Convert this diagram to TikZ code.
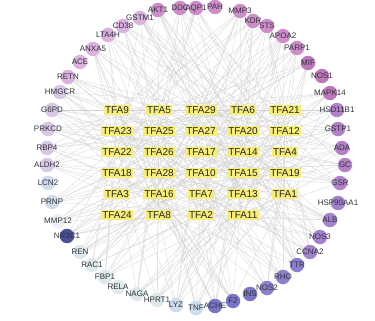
\documentclass[tikz,border=0pt]{standalone}
\usepackage{fontspec}
\setmainfont{Liberation Sans}
\usepackage{tikz}
\usepackage{xcolor}
\usetikzlibrary{backgrounds}
\definecolor{cTFA}{RGB}{246,238,118}
\definecolor{cEdge}{RGB}{208,208,208}
\definecolor{cText}{RGB}{50,50,60}
\definecolor{cPinkA}{RGB}{214,166,216}
\definecolor{cPinkB}{RGB}{198,126,192}
\definecolor{cPinkC}{RGB}{182,100,178}
\definecolor{cPurA}{RGB}{168,112,192}
\definecolor{cPurB}{RGB}{150,114,198}
\definecolor{cPurC}{RGB}{126,110,198}
\definecolor{cBlueA}{RGB}{102,98,190}
\definecolor{cNavy}{RGB}{48,56,140}
\definecolor{cSky}{RGB}{198,216,232}
\definecolor{cTeal}{RGB}{216,230,232}
\definecolor{cLav}{RGB}{210,192,226}
\definecolor{cPale}{RGB}{236,240,244}
\tikzset{
	% target ring
	target/.style ={circle, minimum size=14.5pt, inner sep=0pt, draw=none},
	tlabel/.style ={inner sep=0pt, text=cText, font=\fontsize{8}{9}\selectfont},
	% compounds in the middle
	tfa/.style    ={rectangle, fill=cTFA, inner xsep=1.5pt, inner ysep=1.2pt, text=black!85, font=\fontsize{10}{11}\selectfont},
	edge/.style   ={draw=cEdge, line width=0.25pt},
}
\newcommand{\targetlist}{AKT1,DDC,AQP1,PAH,MMP3,KDR,STS,APOA2,PARP1,MIF,NOS1,MAPK14,HSD11B1,GSTP1,ADA,GC,GSR,HSP90AA1,ALB,NOS3,CCNA2,TTR,RHO,NOS2,INS,F2,ACHE,TNF,LYZ,HPRT1,NAGA,RELA,FBP1,RAC1,REN,NR3C1,MMP12,PRNP,LCN2,ALDH2,RBP4,PRKCD,G6PD,HMGCR,RETN,ACE,ANXA5,LTA4H,CD38,GSTM1}
\begin{document}
\begin{tikzpicture}[x=1pt, y=-1pt]
	\useasboundingbox (0,0) rectangle (375,321);
	% outer ring of targets
	\foreach \nm/\px/\py/\col in {AKT1/158/10/cPinkB, DDC/180/8/cPinkB, AQP1/196/8/cPinkB, PAH/215/7/cPinkB,
		MMP3/240/11/cPinkB, KDR/253/21/cPinkB, STS/267/26/cPinkB, APOA2/283/36/cPinkB, PARP1/297/48/cPinkB,
		MIF/308/63/cPinkC, NOS1/322/76/cPinkC, MAPK14/330/93/cPinkC,
		HSD11B1/337/110/cPurA, GSTP1/338/129/cPurA, ADA/342/148/cPurA, GC/345/165/cPurA, GSR/340/183/cPurA,
		HSP90AA1/338/203/cPurB, ALB/330/220/cPurB, NOS3/320/237/cPurB, CCNA2/310/252/cPurB,
		TTR/297/265/cPurC, RHO/283/277/cPurC, NOS2/267/288/cPurC,
		INS/250/294/cBlueA, F2/233/301/cBlueA, ACHE/215/306/cBlueA,
		TNF/196/308/cSky, LYZ/176/305/cSky,
		HPRT1/157/300/cTeal, NAGA/137/294/cTeal, RELA/118/287/cTeal, FBP1/105/277/cTeal, RAC1/92/265/cTeal, REN/80/252/cTeal,
		NR3C1/67/236/cNavy, MMP12/58/221/cPale, PRNP/52/202/cSky, LCN2/48/183/cSky,
		ALDH2/47/165/cLav, RBP4/47/148/cLav, PRKCD/48/129/cLav, G6PD/52/110/cLav, HMGCR/60/92/cLav,
		RETN/68/77/cPinkA, ACE/80/62/cPinkA, ANXA5/93/49/cPinkA, LTA4H/108/35/cPinkA, CD38/123/26/cPinkA, GSTM1/140/18/cPinkA}{
		\node[target, fill=\col!88] (\nm) at (\px,\py) {};
		\node[tlabel] at (\nm) {\nm};
	}
	% grid of TFA compounds
	\foreach \k/\c/\r in {9/1/1, 5/2/1, 29/3/1, 6/4/1, 21/5/1,
		23/1/2, 25/2/2, 27/3/2, 20/4/2, 12/5/2,
		22/1/3, 26/2/3, 17/3/3, 14/4/3, 4/5/3,
		18/1/4, 28/2/4, 10/3/4, 15/4/4, 19/5/4,
		3/1/5, 16/2/5, 7/3/5, 13/4/5, 1/5/5,
		24/1/6, 8/2/6, 2/3/6, 11/4/6}
		\node[tfa] (TFA\k) at (75+42*\c, 89+21*\r) {TFA\k};
	% compound--target links
	\begin{scope}[on background layer]
		\foreach \i in {1,...,29}
			\foreach [count=\j] \t in \targetlist {
				\pgfmathtruncatemacro{\hit}{mod(\i*17+\j*11+\i*\j,7)}
				\ifnum\hit<2 \draw[edge] (TFA\i) -- (\t); \fi
			}
	\end{scope}
\end{tikzpicture}
\end{document}
